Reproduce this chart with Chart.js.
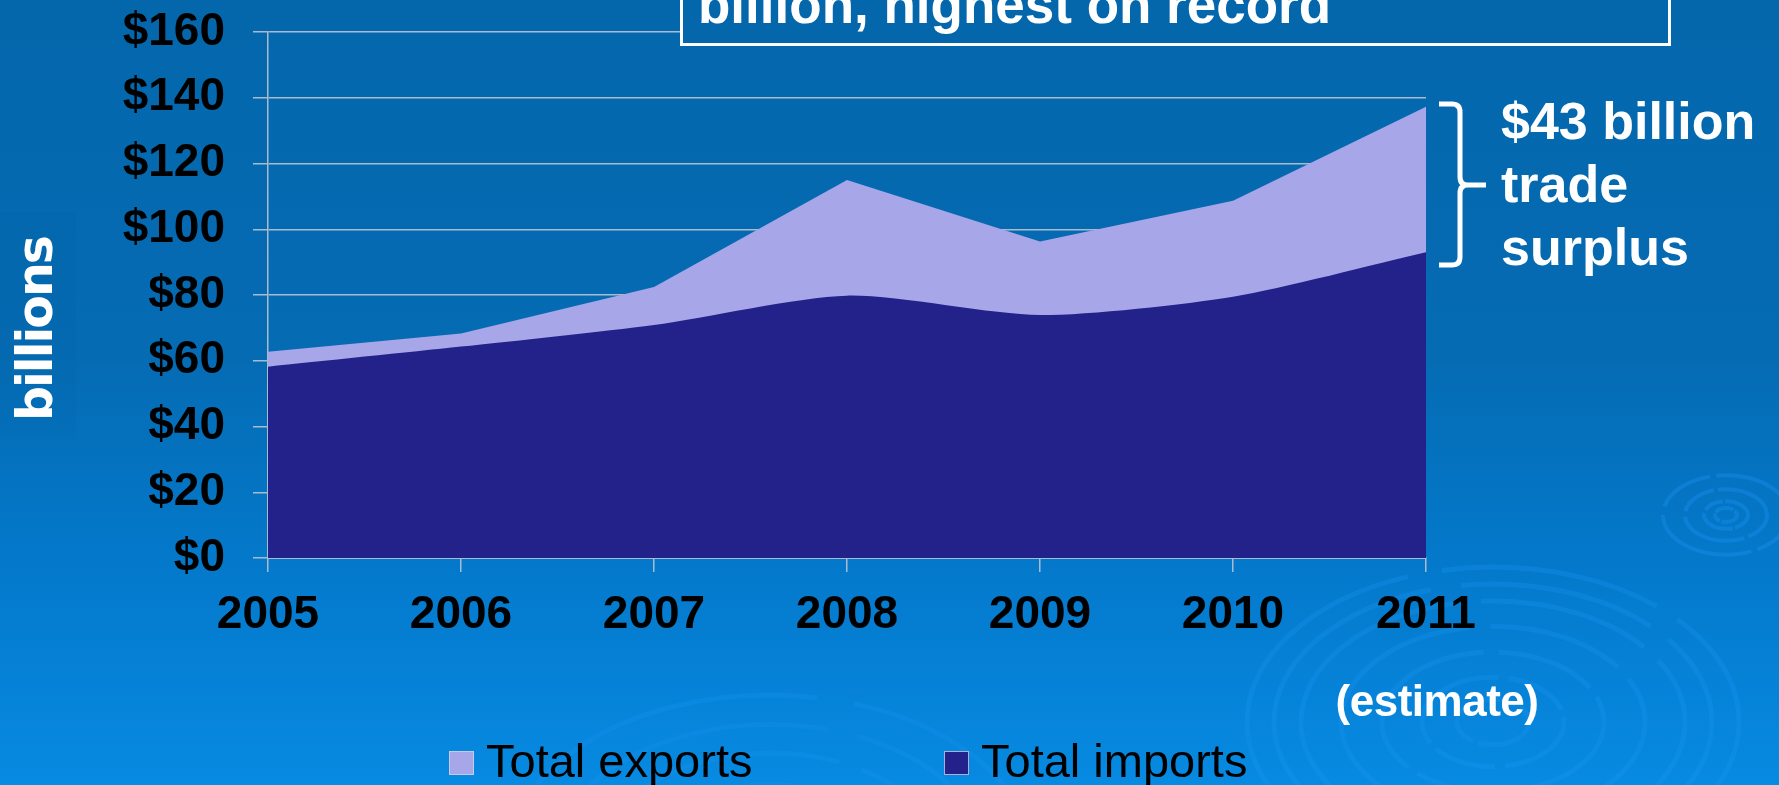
<!DOCTYPE html>
<html>
<head>
<meta charset="utf-8">
<script src="https://cdn.jsdelivr.net/npm/chart.js@4.4.1/dist/chart.umd.min.js"></script>
<style>
  html, body { margin: 0; padding: 0; background: #0468ae; overflow: hidden; }
  #wrap { position: relative; width: 1779px; height: 785px; overflow: hidden; }
  #c { position: absolute; left: 0; top: 0; }
  .ov { position: absolute; white-space: nowrap; font-family: "Liberation Sans", Arial, sans-serif; }
  #titlebox { left: 680px; top: -60px; width: 991px; height: 106px; box-sizing: border-box; border: 3px solid #fff; background: #0467ac; }
  #titletxt { left: 698px; top: -22px; font-size: 53px; line-height: 53px; font-weight: bold; color: #fff; }
  #surplus { left: 1501px; top: 90px; font-size: 52px; line-height: 63px; font-weight: bold; color: #fff; }
  #estimate { left: 1287px; width: 300px; text-align: center; top: 679px; font-size: 44px; line-height: 44px; font-weight: bold; color: #fff; letter-spacing: -0.5px; }
  #ytitle { left: -114px; top: 304px; width: 300px; height: 50px; text-align: center; font-family: "DejaVu Sans", Verdana, sans-serif; font-size: 49px; line-height: 50px; font-weight: bold; color: #fff; letter-spacing: -2px; transform: rotate(-90deg); transform-origin: 150px 25px; }
  .lg { position: absolute; top: 737px; font-family: "Liberation Sans", Arial, sans-serif; font-size: 47px; line-height: 47px; color: #000; white-space: nowrap; }
  .lgbox { position: absolute; top: 751px; width: 25px; height: 24px; box-sizing: border-box; border: 1px solid rgba(210,210,235,0.8); }
</style>
</head>
<body>
<div id="wrap">
  <canvas id="c" width="1779" height="785"></canvas>
  <div class="ov" id="titlebox"></div>
  <div class="ov" id="titletxt">billion, highest on record</div>
  <div class="ov" id="surplus">$43 billion<br>trade<br>surplus</div>
  <div class="ov" id="estimate">(estimate)</div>
  <div class="ov" id="ytitle">billions</div>
  <div id="legend"></div>
</div>
<script>
// ---- data ----
const years = ['2005', '2006', '2007', '2008', '2009', '2010', '2011'];
const exportsValues = [62.7, 68.3, 82.4, 115.0, 96.3, 108.7, 137.3];
const importsValues = [58.2, 64.3, 70.9, 79.8, 73.9, 79.5, 93.0];
const yTickLabels = ['$0', '$20', '$40', '$60', '$80', '$100', '$120', '$140', '$160'];
const seriesLabels = ['Total exports', 'Total imports'];

const exportColor = '#a6a6e8';
const importColor = '#22228a';
const gridColor = '#a9bccf';

// background + ripple decoration
function ripple(ctx, cx, cy, radii, ratio, lw, color) {
  radii.forEach((r, i) => {
    ctx.save();
    ctx.beginPath();
    ctx.ellipse(cx, cy, r, r * ratio, 0, 0, Math.PI * 2);
    ctx.strokeStyle = color;
    ctx.lineWidth = lw;
    ctx.setLineDash([r * 1.7, r * 0.14, r * 0.9, r * 0.1]);
    ctx.lineDashOffset = i * 41;
    ctx.stroke();
    ctx.restore();
  });
}

const bgPlugin = {
  id: 'bg',
  beforeDraw(chart) {
    const ctx = chart.ctx;
    const w = chart.width, h = chart.height;
    ctx.save();
    const g = ctx.createLinearGradient(0, 0, 0, h);
    g.addColorStop(0, '#0467ac');
    g.addColorStop(0.45, '#056bb3');
    g.addColorStop(0.72, '#0479cb');
    g.addColorStop(1, '#078ae2');
    ctx.fillStyle = g;
    ctx.fillRect(0, 0, w, h);
    ctx.fillStyle = 'rgba(0,30,80,0.025)';
    ctx.fillRect(0, 212, 76, 228);
    ripple(ctx, 1493, 722, [36, 71, 111, 152, 192, 219, 246], 0.63, 5, 'rgba(30,150,245,0.28)');
    ripple(ctx, 770, 860, [120, 170, 215, 262], 0.63, 5, 'rgba(30,150,245,0.22)');
    ripple(ctx, 1726, 515, [11, 22, 41, 63], 0.63, 4, 'rgba(30,150,245,0.35)');
    ctx.restore();
  },
  afterDraw(chart) {
    const ctx = chart.ctx;
    ctx.save();
    ctx.strokeStyle = '#ffffff';
    ctx.lineWidth = 5;
    ctx.lineCap = 'butt';
    ctx.beginPath();
    ctx.moveTo(1439, 104);
    ctx.lineTo(1452, 104);
    ctx.quadraticCurveTo(1460, 104, 1460, 112);
    ctx.lineTo(1460, 177);
    ctx.quadraticCurveTo(1460, 185, 1468, 185);
    ctx.lineTo(1486, 185);
    ctx.moveTo(1468, 185);
    ctx.quadraticCurveTo(1460, 185, 1460, 193);
    ctx.lineTo(1460, 257);
    ctx.quadraticCurveTo(1460, 265, 1452, 265);
    ctx.lineTo(1439, 265);
    ctx.stroke();
    ctx.restore();
  }
};

const chart = new Chart(document.getElementById('c'), {
  type: 'line',
  data: {
    labels: years,
    datasets: [
      {
        label: seriesLabels[0],
        data: exportsValues,
        backgroundColor: exportColor,
        borderWidth: 0,
        pointRadius: 0,
        fill: 'origin',
        tension: 0,
        order: 2
      },
      {
        label: seriesLabels[1],
        data: importsValues,
        backgroundColor: importColor,
        borderWidth: 0,
        pointRadius: 0,
        fill: 'origin',
        tension: 0.25,
        order: 1
      }
    ]
  },
  options: {
    responsive: false,
    animation: false,
    devicePixelRatio: 1,
    layout: { padding: { left: 0, top: 32, right: 353, bottom: 0 } },
    plugins: { legend: { display: false }, tooltip: { enabled: false } },
    scales: {
      x: {
        offset: false,
        grid: { drawOnChartArea: false, color: gridColor, lineWidth: 1.5, tickLength: 14 },
        border: { color: gridColor, width: 2 },
        ticks: {
          color: '#000',
          padding: 16,
          maxRotation: 0,
          autoSkip: false,
          font: { family: '"Liberation Sans", Arial, sans-serif', size: 46, weight: 'bold' }
        },
        afterFit(s) { s.height = 227; }
      },
      y: {
        min: 0,
        max: 160,
        grid: { color: gridColor, lineWidth: 1.5, tickLength: 15 },
        border: { color: gridColor, width: 1.5 },
        ticks: {
          stepSize: 20,
          color: '#000',
          padding: 28,
          font: { family: '"Liberation Sans", Arial, sans-serif', size: 46, weight: 'bold' },
          callback: (v, i) => yTickLabels[i]
        },
        afterFit(s) { s.width = 268; s.paddingTop = 0; s.paddingBottom = 0; }
      }
    }
  },
  plugins: [bgPlugin]
});

// legend built from the chart's datasets
const legend = document.getElementById('legend');
const legendX = [449, 944];
chart.data.datasets.forEach((ds, i) => {
  const b = document.createElement('div');
  b.className = 'lgbox';
  b.style.left = legendX[i] + 'px';
  b.style.background = ds.backgroundColor;
  legend.appendChild(b);
  const t = document.createElement('div');
  t.className = 'lg';
  t.style.left = (legendX[i] + 37) + 'px';
  t.textContent = ds.label;
  legend.appendChild(t);
});
</script>
</body>
</html>
